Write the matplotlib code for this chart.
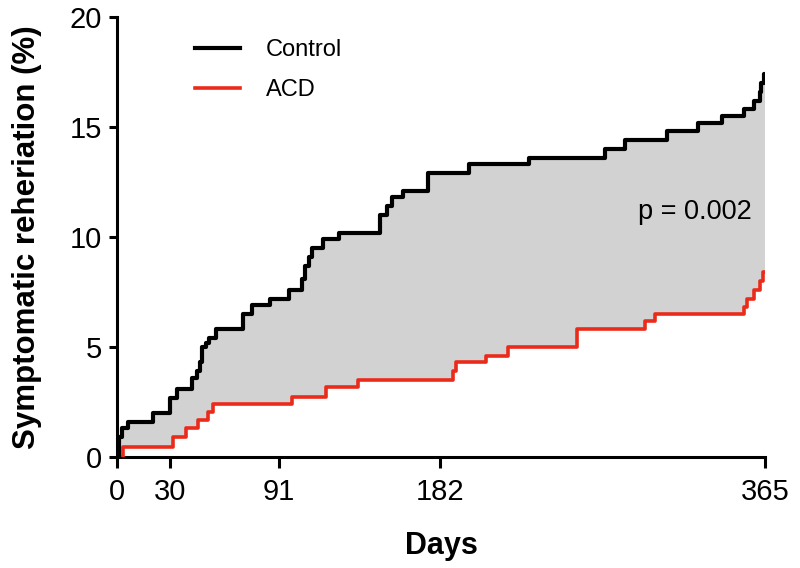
import numpy as np
import matplotlib
matplotlib.use("Agg")
import matplotlib.pyplot as plt

plt.rcParams['font.family'] = ['Liberation Sans', 'DejaVu Sans']

# cumulative incidence (step after each day)
control_days = [0, 1, 3, 6, 20, 30, 34, 42, 45, 46.5, 48, 50, 52, 56, 71, 76, 86, 97,
                104, 106, 108, 110, 116, 125, 148, 152, 155, 161, 175, 198, 232, 275,
                286, 310, 327, 341, 353, 359, 362, 363, 364.5, 365]
control_pct = [0, 0.9, 1.3, 1.6, 2.0, 2.7, 3.1, 3.6, 3.9, 4.3, 5.0, 5.2, 5.4, 5.8, 6.5, 6.9, 7.2, 7.6,
               8.1, 8.7, 9.1, 9.5, 9.9, 10.2, 11.0, 11.4, 11.8, 12.1, 12.9, 13.3, 13.6, 14.0,
               14.4, 14.8, 15.2, 15.5, 15.8, 16.2, 16.6, 17.0, 17.4, 17.4]

acd_days = [0, 3.5, 31.5, 39, 45.5, 51, 54, 98.5, 118, 136, 189, 191, 208, 220, 259,
            297.5, 303, 353, 355, 359, 362, 364, 365]
acd_pct = [0, 0.45, 0.9, 1.3, 1.7, 2.05, 2.4, 2.75, 3.2, 3.5, 3.9, 4.3, 4.6, 5.0, 5.8,
           6.2, 6.5, 6.8, 7.2, 7.6, 8.0, 8.4, 8.4]

xticks = [0, 30, 91, 182, 365]
yticks = [0, 5, 10, 15, 20]


def step_at(days, vals, grid):
    idx = np.searchsorted(days, grid, side='right') - 1
    return np.asarray(vals)[idx]


fig = plt.figure(figsize=(8, 5.68), dpi=100)
ax = fig.add_axes([0.14625, 0.1954, 0.81, 0.7746])

grid = np.unique(np.concatenate([control_days, acd_days]))
ax.fill_between(grid, step_at(control_days, control_pct, grid), step_at(acd_days, acd_pct, grid),
                step='post', color='#d2d2d2', linewidth=0, zorder=1)

ax.plot(acd_days, acd_pct, drawstyle='steps-post', color='#ea2a1a', lw=2.6, label='ACD', zorder=3)
ax.plot(control_days, control_pct, drawstyle='steps-post', color='black', lw=3.0, label='Control', zorder=4)

ax.set_xlim(0, 365)
ax.set_ylim(0, 20)
ax.set_xticks(xticks)
ax.set_yticks(yticks)

for s in ['top', 'right']:
    ax.spines[s].set_visible(False)
for s in ['left', 'bottom']:
    ax.spines[s].set_linewidth(2.2)
ax.tick_params(axis='both', width=2.2, labelsize=21)
ax.tick_params(axis='x', length=8, pad=7)
ax.tick_params(axis='y', length=6, pad=5)

ax.set_xlabel('Days', fontsize=22, fontweight='bold', labelpad=18)
ax.set_ylabel('Symptomatic reheriation (%)', fontsize=22.5, fontweight='bold', labelpad=20)

handles, labels = ax.get_legend_handles_labels()
ax.legend(handles[::-1], labels[::-1], loc='upper left', bbox_to_anchor=(0.12, 0.95),
          frameon=False, fontsize=17, handlelength=1.9, handletextpad=1.1,
          labelspacing=0.78, borderpad=0, borderaxespad=0)

ax.text(0.98, 0.557, 'p = 0.002', transform=ax.transAxes, fontsize=19.5, ha='right', va='center')

fig.savefig('out.png', dpi=100)
